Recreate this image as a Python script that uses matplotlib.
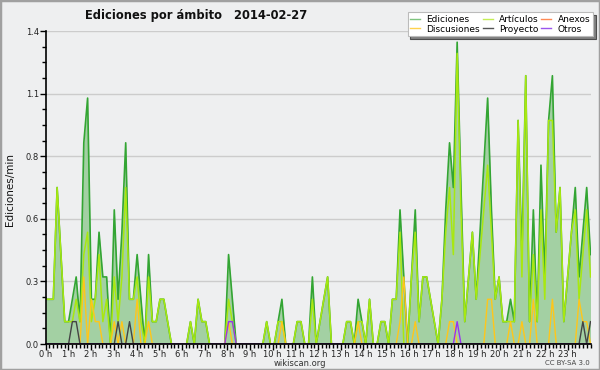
import numpy as np
import matplotlib
matplotlib.use('Agg')
import matplotlib.pyplot as plt
from matplotlib.patches import Rectangle
from matplotlib.lines import Line2D

# ---- data (10-minute bins, edits per minute) ----
hour_labels = [f'{h} h' for h in range(24)]
ytick_values = [0.0, 0.28, 0.56, 0.84, 1.12, 1.4]

ediciones = [
    0.2, 0.2, 0.2, 0.7, 0.4, 0.1, 0.1, 0.2, 0.3, 0.1, 0.9, 1.1,
    0.2, 0.2, 0.5, 0.3, 0.3, 0.0, 0.6, 0.2, 0.5, 0.9, 0.2, 0.2,
    0.4, 0.2, 0.0, 0.4, 0.1, 0.1, 0.2, 0.2, 0.1, 0.0, 0.0, 0.0,
    0.0, 0.0, 0.1, 0.0, 0.2, 0.1, 0.1, 0.0, 0.0, 0.0, 0.0, 0.0,
    0.4, 0.2, 0.0, 0.0, 0.0, 0.0, 0.0, 0.0, 0.0, 0.0, 0.1, 0.0,
    0.0, 0.1, 0.2, 0.0, 0.0, 0.0, 0.1, 0.1, 0.0, 0.0, 0.3, 0.0,
    0.1, 0.2, 0.3, 0.0, 0.0, 0.0, 0.0, 0.1, 0.1, 0.0, 0.2, 0.1,
    0.0, 0.2, 0.0, 0.0, 0.1, 0.1, 0.0, 0.2, 0.2, 0.6, 0.3, 0.0,
    0.3, 0.6, 0.1, 0.3, 0.3, 0.2, 0.1, 0.0, 0.2, 0.6, 0.9, 0.7,
    1.35, 0.7, 0.1, 0.3, 0.5, 0.2, 0.5, 0.8, 1.1, 0.6, 0.2, 0.3,
    0.1, 0.1, 0.2, 0.1, 1.0, 0.4, 1.2, 0.1, 0.6, 0.1, 0.8, 0.3,
    1.0, 1.2, 0.5, 0.7, 0.1, 0.3, 0.5, 0.7, 0.3, 0.5, 0.7, 0.4,
]

articulos = [
    0.2, 0.2, 0.2, 0.7, 0.4, 0.1, 0.1, 0.1, 0.2, 0.1, 0.4, 0.5,
    0.1, 0.2, 0.4, 0.1, 0.2, 0.0, 0.3, 0.1, 0.3, 0.7, 0.2, 0.2,
    0.3, 0.1, 0.0, 0.3, 0.1, 0.1, 0.2, 0.2, 0.1, 0.0, 0.0, 0.0,
    0.0, 0.0, 0.1, 0.0, 0.2, 0.1, 0.1, 0.0, 0.0, 0.0, 0.0, 0.0,
    0.2, 0.1, 0.0, 0.0, 0.0, 0.0, 0.0, 0.0, 0.0, 0.0, 0.1, 0.0,
    0.0, 0.1, 0.1, 0.0, 0.0, 0.0, 0.1, 0.1, 0.0, 0.0, 0.2, 0.0,
    0.1, 0.2, 0.3, 0.0, 0.0, 0.0, 0.0, 0.1, 0.1, 0.0, 0.1, 0.1,
    0.0, 0.2, 0.0, 0.0, 0.1, 0.1, 0.0, 0.2, 0.2, 0.5, 0.0, 0.0,
    0.3, 0.5, 0.1, 0.3, 0.3, 0.2, 0.1, 0.0, 0.2, 0.5, 0.7, 0.4,
    1.3, 0.6, 0.1, 0.3, 0.5, 0.2, 0.4, 0.6, 0.8, 0.5, 0.2, 0.3,
    0.1, 0.1, 0.1, 0.1, 1.0, 0.3, 1.2, 0.1, 0.4, 0.1, 0.6, 0.2,
    1.0, 1.0, 0.5, 0.7, 0.1, 0.3, 0.5, 0.6, 0.2, 0.4, 0.6, 0.3,
]

discusiones = [
    0.0, 0.0, 0.0, 0.0, 0.0, 0.0, 0.0, 0.0, 0.0, 0.0, 0.3, 0.0,
    0.2, 0.1, 0.1, 0.0, 0.0, 0.0, 0.1, 0.0, 0.1, 0.0, 0.0, 0.0,
    0.2, 0.0, 0.0, 0.1, 0.0, 0.0, 0.0, 0.0, 0.0, 0.0, 0.0, 0.0,
    0.0, 0.0, 0.0, 0.0, 0.0, 0.0, 0.0, 0.0, 0.0, 0.0, 0.0, 0.0,
    0.1, 0.0, 0.0, 0.0, 0.0, 0.0, 0.0, 0.0, 0.0, 0.0, 0.0, 0.0,
    0.0, 0.0, 0.1, 0.0, 0.0, 0.0, 0.0, 0.0, 0.0, 0.0, 0.0, 0.0,
    0.0, 0.0, 0.0, 0.0, 0.0, 0.0, 0.0, 0.0, 0.0, 0.0, 0.1, 0.0,
    0.0, 0.0, 0.0, 0.0, 0.0, 0.0, 0.0, 0.0, 0.0, 0.1, 0.3, 0.0,
    0.0, 0.1, 0.0, 0.0, 0.0, 0.0, 0.0, 0.0, 0.0, 0.0, 0.1, 0.1,
    0.0, 0.0, 0.0, 0.0, 0.0, 0.0, 0.0, 0.0, 0.2, 0.2, 0.0, 0.0,
    0.0, 0.0, 0.1, 0.0, 0.0, 0.1, 0.0, 0.0, 0.2, 0.0, 0.0, 0.0,
    0.0, 0.2, 0.0, 0.0, 0.0, 0.0, 0.0, 0.0, 0.2, 0.1, 0.1, 0.0,
]

proyecto = [
    0.0, 0.0, 0.0, 0.0, 0.0, 0.0, 0.0, 0.1, 0.1, 0.0, 0.0, 0.0,
    0.0, 0.0, 0.0, 0.0, 0.0, 0.0, 0.0, 0.1, 0.0, 0.0, 0.1, 0.0,
] + [0.0] * 108 + [
    0.0, 0.0, 0.0, 0.0, 0.0, 0.0, 0.0, 0.0, 0.0, 0.1, 0.0, 0.1,
]

otros = [0.0] * 48 + [0.1, 0.1] + [0.0] * 58 + [0.1] + [0.0] * 35

anexos = [0.0] * 144

# ---- figure ----
BG = '#eeeff0'
fig = plt.figure(figsize=(6, 3.7), dpi=100, facecolor=BG)
ax = fig.add_axes([45.7 / 600, 1 - 344 / 370, (590.5 - 45.7) / 600, (344 - 31) / 370])
ax.set_facecolor(BG)

n = len(ediciones)
x = np.arange(n) * 24.0 / (n - 1)

ax.fill_between(x, ediciones, 0, color='#a3d0a3', lw=0, zorder=1)
ax.plot(x, anexos, color='#ff7f3f', lw=1.0, zorder=2)
ax.plot(x, ediciones, color='#33a533', lw=1.2, zorder=3)
ax.plot(x, articulos, color='#a8e810', lw=1.1, zorder=4)
ax.plot(x, discusiones, color='#ffc61a', lw=1.0, zorder=5)
ax.plot(x, proyecto, color='#444444', lw=1.0, zorder=6)
ax.plot(x, otros, color='#9933ee', lw=1.0, zorder=7)

ax.set_xlim(0, 24)
ax.set_ylim(0, 1.4)

ax.set_yticks(ytick_values)
ax.set_yticklabels([f'{v:.1f}' for v in ytick_values])
ax.set_yticks(np.arange(0, 1.4001, 0.07), minor=True)
ax.set_xticks(range(24))
ax.set_xticklabels(hour_labels)
ax.set_xticks(np.arange(0, 24.001, 1 / 6), minor=True)

ax.tick_params(axis='both', which='major', labelsize=6, colors='black',
               labelcolor='#222222', width=1, length=4, direction='out', pad=1)
ax.tick_params(axis='x', which='major', pad=0.3)
ax.tick_params(axis='both', which='minor', width=1, length=3, direction='out')

ax.yaxis.grid(True, which='major', color='#cccccc', lw=1)
ax.set_axisbelow(True)
for s in ('top', 'right'):
    ax.spines[s].set_visible(False)
for s in ('left', 'bottom'):
    ax.spines[s].set_color('black')
    ax.spines[s].set_linewidth(1.2)
    ax.spines[s].set_zorder(10)

# ---- texts ----
fig.text(85 / 600, 1 - 15 / 370, 'Ediciones por ámbito   2014-02-27',
         fontsize=8.3, fontweight='bold', ha='left', va='center', color='#111111')
fig.text(10 / 600, 1 - 190 / 370, 'Ediciones/min', rotation=90,
         fontsize=7.5, ha='center', va='center', color='#111111')
fig.text(300 / 600, 1 - 364 / 370, 'wikiscan.org', fontsize=6,
         ha='center', va='center', color='#333333')
fig.text(590 / 600, 1 - 363 / 370, 'CC BY-SA 3.0', fontsize=5,
         ha='right', va='center', color='#444444')

# ---- legend ----
labels = ['Ediciones', 'Discusiones', 'Artículos', 'Proyecto', 'Anexos', 'Otros']
colors = ['#7fc47f', '#ffd24d', '#c4ee55', '#555555', '#ff8a55', '#9a55ee']
handles = [Line2D([], [], color=c, lw=1.0) for c in colors]
leg = fig.legend(handles, labels, ncol=3, loc='upper right',
                 bbox_to_anchor=(593 / 600, 1 - 12 / 370), fontsize=6.5,
                 frameon=True, fancybox=False,
                 shadow={'facecolor': '#808080', 'alpha': 1.0},
                 edgecolor='#bbbbbb', framealpha=1, borderpad=0.3,
                 handlelength=1.1, handletextpad=0.7, columnspacing=0.3,
                 labelspacing=0.1, borderaxespad=0)
leg.get_frame().set_linewidth(0.8)

fig.patches.append(Rectangle((0, 0), 1, 1, transform=fig.transFigure, fill=False,
                             edgecolor='#a0a0a0', lw=2.5))

fig.savefig('out.png', dpi=100, facecolor=fig.get_facecolor())
